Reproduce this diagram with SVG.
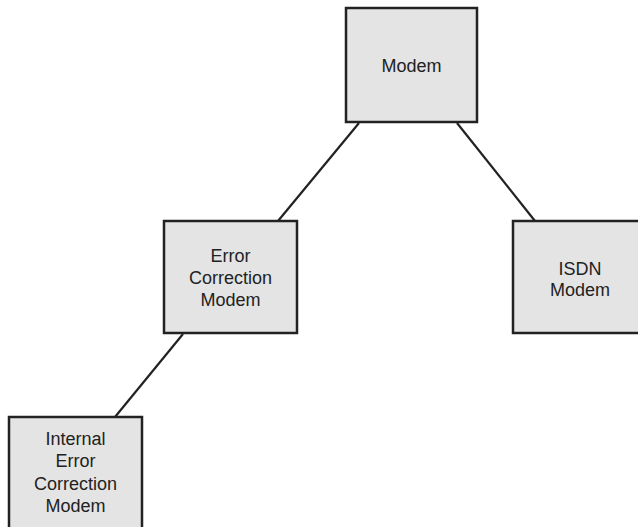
<svg xmlns="http://www.w3.org/2000/svg" width="638" height="527" viewBox="0 0 638 527">
<style>
.box{fill:#e4e4e4;stroke:#222;stroke-width:2.5}
.lbl{font-family:"Liberation Sans",Arial,sans-serif;font-size:18px;fill:#222;text-anchor:middle}
.edge{stroke:#222;stroke-width:2.2;fill:none}
</style>
<rect width="638" height="527" fill="#fff"/>
<g id="connectors">
<line class="edge" x1="359" y1="123" x2="278" y2="221"/>
<line class="edge" x1="457" y1="123" x2="535" y2="221"/>
<line class="edge" x1="183" y1="334" x2="115" y2="417"/>
</g>
<g id="modem">
<rect class="box" x="346" y="8" width="131" height="114"/>
<text class="lbl" x="411.5" y="72">Modem</text>
</g>
<g id="error-correction-modem">
<rect class="box" x="164" y="221" width="133" height="112"/>
<text class="lbl" x="230.5" y="262">Error</text>
<text class="lbl" x="230.5" y="284">Correction</text>
<text class="lbl" x="230.5" y="306">Modem</text>
</g>
<g id="isdn-modem">
<rect class="box" x="513" y="221" width="134" height="112"/>
<text class="lbl" x="580" y="275">ISDN</text>
<text class="lbl" x="580" y="296">Modem</text>
</g>
<g id="internal-error-correction-modem">
<rect class="box" x="9" y="417" width="133" height="120"/>
<text class="lbl" x="75.5" y="445">Internal</text>
<text class="lbl" x="75.5" y="467">Error</text>
<text class="lbl" x="75.5" y="490">Correction</text>
<text class="lbl" x="75.5" y="512">Modem</text>
</g>
</svg>
